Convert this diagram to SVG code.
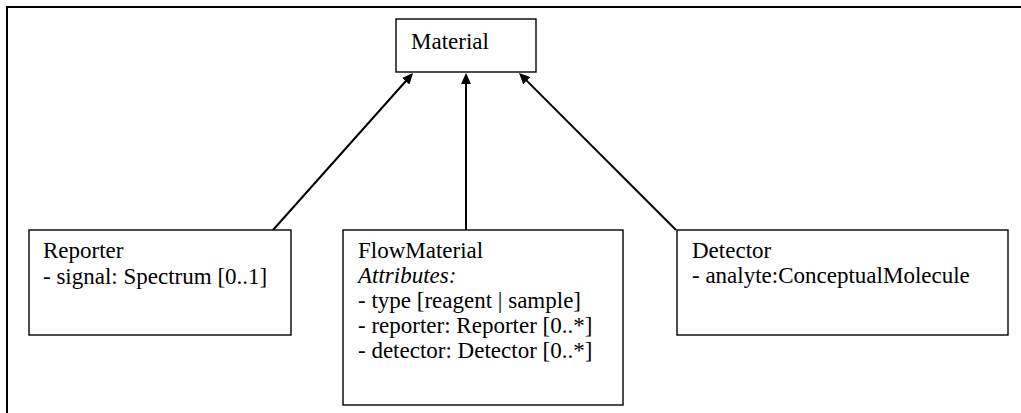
<svg xmlns="http://www.w3.org/2000/svg" width="1021" height="413" viewBox="0 0 1021 413">
  <style>
    .box { fill: #ffffff; stroke: #000000; stroke-width: 1.4; }
    .frame { stroke: #000000; stroke-width: 2; fill: none; }
    .conn { stroke: #000000; stroke-width: 2; fill: none; }
    text { font-family: "Liberation Serif", "Times New Roman", serif; font-size: 23px; fill: #000000; }
    .it { font-style: italic; }
  </style>
  <defs>
    <marker id="arrow" viewBox="0 0 11 10" refX="9" refY="5" markerWidth="11" markerHeight="10" markerUnits="userSpaceOnUse" orient="auto">
      <path d="M0,0 L11,5 L0,10 z" fill="#000000"/>
    </marker>
  </defs>
  <rect x="0" y="0" width="1021" height="413" fill="#ffffff"/>
  <g id="frame">
    <line class="frame" x1="7" y1="7" x2="1021" y2="7"/>
    <line class="frame" x1="7" y1="6" x2="7" y2="413"/>
  </g>
  <g id="connectors">
    <line class="conn" x1="273" y1="230" x2="411.7" y2="74.5" marker-end="url(#arrow)"/>
    <line class="conn" x1="466" y1="230" x2="466" y2="75" marker-end="url(#arrow)"/>
    <line class="conn" x1="676" y1="230" x2="520.4" y2="74.4" marker-end="url(#arrow)"/>
  </g>
  <g id="material">
    <rect class="box" x="396" y="19" width="140" height="53"/>
    <text x="411" y="49">Material</text>
  </g>
  <g id="reporter">
    <rect class="box" x="29" y="230" width="262" height="105"/>
    <text x="43" y="258">Reporter</text>
    <text x="43" y="284">- signal: Spectrum [0..1]</text>
  </g>
  <g id="flowmaterial">
    <rect class="box" x="343" y="230" width="280" height="175"/>
    <text x="358" y="258">FlowMaterial</text>
    <text class="it" x="358" y="283">Attributes:</text>
    <text x="358" y="308">- type [reagent | sample]</text>
    <text x="358" y="333">- reporter: Reporter [0..*]</text>
    <text x="358" y="358">- detector: Detector [0..*]</text>
  </g>
  <g id="detector">
    <rect class="box" x="677" y="230" width="331" height="105"/>
    <text x="692" y="258">Detector</text>
    <text x="692" y="283">- analyte:ConceptualMolecule</text>
  </g>
</svg>
